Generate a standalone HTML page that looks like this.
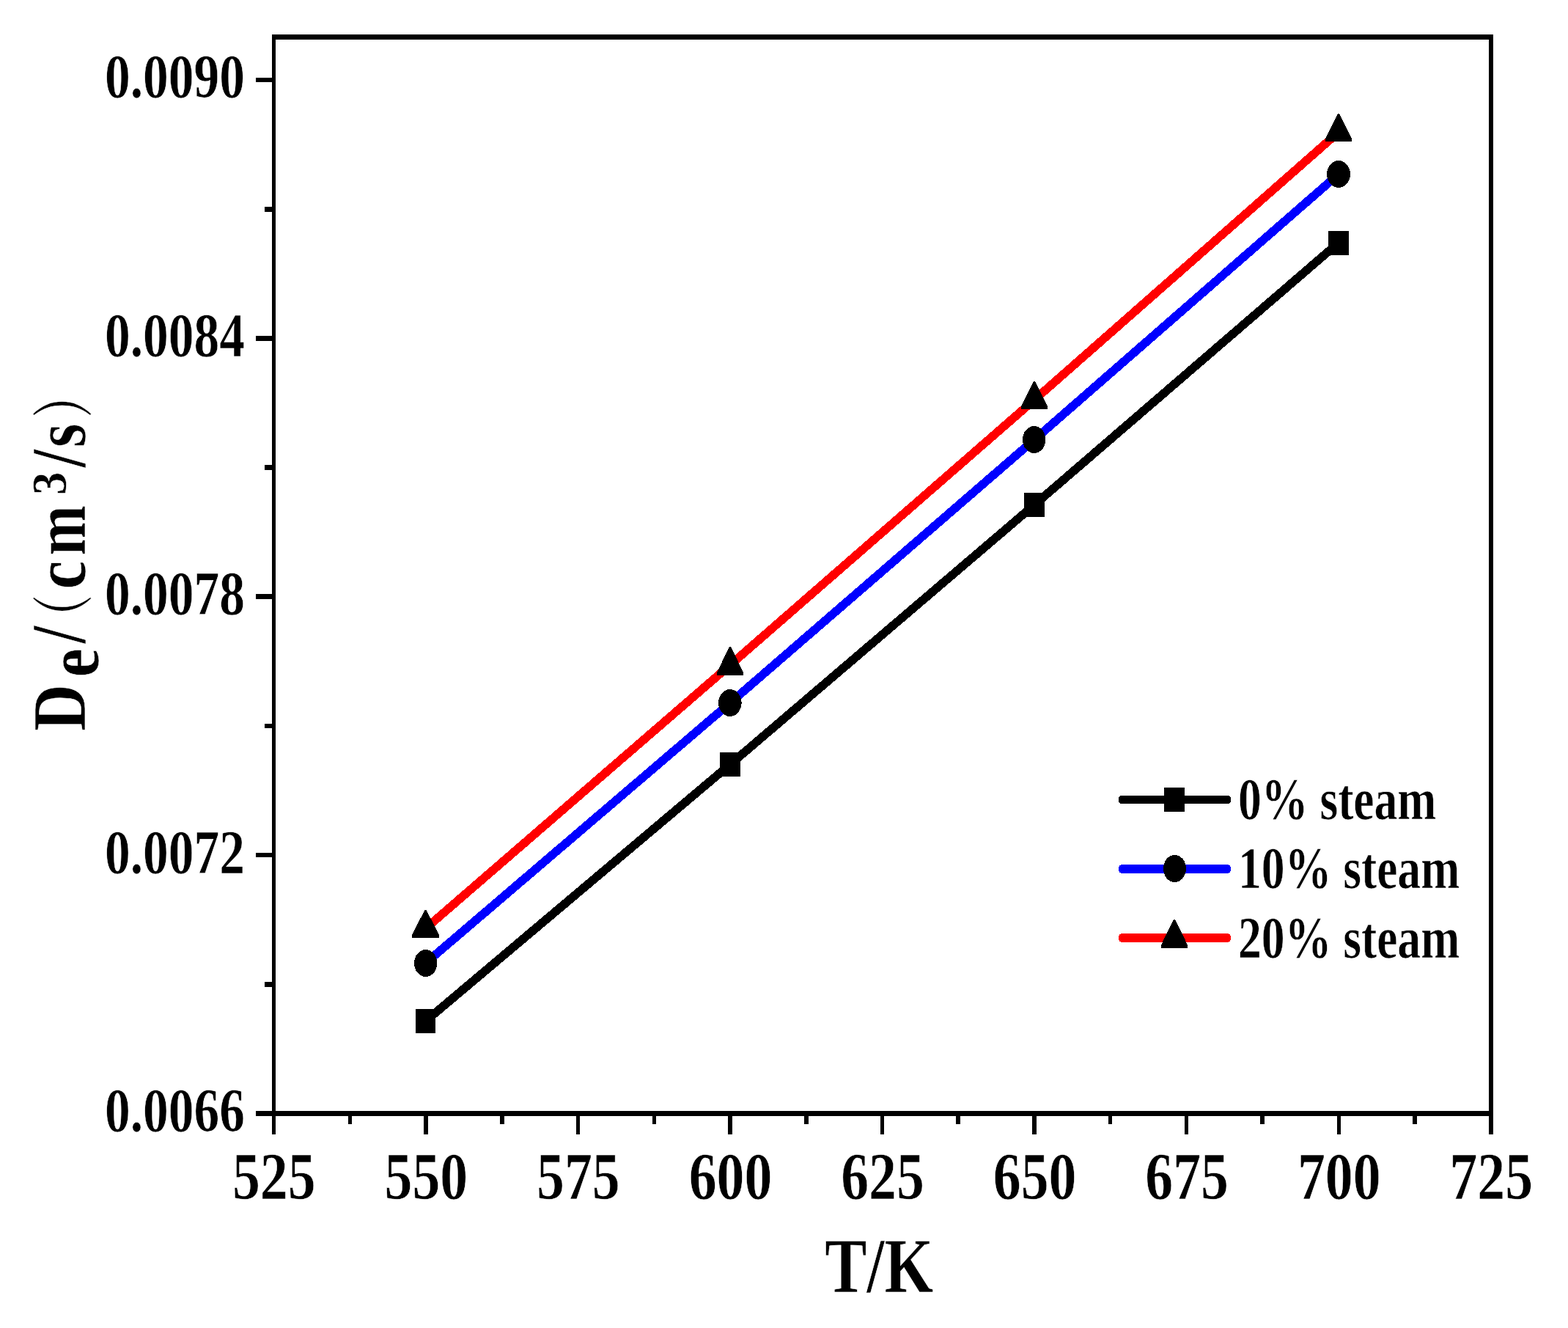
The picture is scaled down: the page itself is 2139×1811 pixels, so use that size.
<!DOCTYPE html>
<html lang="en">
<head>
<meta charset="utf-8">
<title>De/(cm3/s) - T/K</title>
<style>
html,body{margin:0;padding:0;background:#ffffff;}
body{width:2139px;height:1811px;overflow:hidden;}
svg{display:block;}
text{white-space:pre;}
</style>
</head>
<body>
<svg width="2139" height="1811" viewBox="0 0 2139 1811">
<rect x="0" y="0" width="2139" height="1811" fill="#ffffff"/>
<g id="series" shape-rendering="crispEdges" fill="#000">
<polyline points="580.5,1392.5 996,1042.5 1411,688.5 1826,331" fill="none" stroke="#000000" stroke-width="11.6" stroke-linejoin="round" stroke-linecap="round"/>
<polyline points="580.5,1313.5 996,958.5 1411,599.5 1826,237.5" fill="none" stroke="#0000ff" stroke-width="11.6" stroke-linejoin="round" stroke-linecap="round"/>
<polyline points="580.5,1266.2 996,906.87 1411,545.27 1826,180.27" fill="none" stroke="#ff0000" stroke-width="11.6" stroke-linejoin="round" stroke-linecap="round"/>
<rect x="567" y="1376" width="27" height="33"/>
<rect x="982" y="1026" width="28" height="33"/>
<rect x="1397" y="672" width="28" height="33"/>
<rect x="1812" y="315" width="28" height="33"/>
<ellipse cx="580.7" cy="1313.5" rx="15.7" ry="18.5"/>
<ellipse cx="995.8" cy="958.5" rx="15.8" ry="18.5"/>
<ellipse cx="1410.7" cy="599.5" rx="15.7" ry="18.5"/>
<ellipse cx="1826" cy="237.5" rx="16" ry="18.5"/>
<polygon points="579.5,1240.8 581.5,1240.8 599,1275 599,1279 562,1279 562,1275"/>
<polygon points="995,881.8 997,881.8 1014,917 1014,921 978,921 978,917"/>
<polygon points="1410,520 1412,520 1429,554 1429,558 1393,558 1393,554"/>
<polygon points="1825,154.8 1827,154.8 1844,189.1 1844,193.1 1808,193.1 1808,189.1"/>
</g>
<g id="axes" shape-rendering="crispEdges" fill="#000">
<rect x="371" y="47" width="5" height="1500"/>
<rect x="2031" y="47" width="6" height="1500"/>
<rect x="371" y="47" width="1666" height="7"/>
<rect x="349" y="1515" width="1688" height="7"/>
<rect x="349" y="106" width="23" height="6"/>
<rect x="349" y="458" width="23" height="7"/>
<rect x="349" y="810" width="23" height="7"/>
<rect x="349" y="1163" width="23" height="6"/>
<rect x="361" y="282" width="11" height="7"/>
<rect x="361" y="634" width="11" height="7"/>
<rect x="361" y="987" width="11" height="6"/>
<rect x="361" y="1339" width="11" height="7"/>
<rect x="578" y="1520" width="6" height="27"/>
<rect x="786" y="1520" width="5" height="27"/>
<rect x="993" y="1520" width="6" height="27"/>
<rect x="1201" y="1520" width="5" height="27"/>
<rect x="1408" y="1520" width="6" height="27"/>
<rect x="1616" y="1520" width="5" height="27"/>
<rect x="1824" y="1520" width="5" height="27"/>
<rect x="475" y="1520" width="5" height="13"/>
<rect x="682" y="1520" width="6" height="13"/>
<rect x="890" y="1520" width="5" height="13"/>
<rect x="1097" y="1520" width="6" height="13"/>
<rect x="1304" y="1520" width="6" height="13"/>
<rect x="1512" y="1520" width="5" height="13"/>
<rect x="1719" y="1520" width="6" height="13"/>
<rect x="1927" y="1520" width="6" height="13"/>
</g>
<g id="legend" shape-rendering="crispEdges" fill="#000">
<rect x="1526" y="1084.7" width="153" height="11.6" rx="4.5" ry="4.5" fill="#000000"/>
<rect x="1526" y="1179.2" width="153" height="11.6" rx="4.5" ry="4.5" fill="#0000ff"/>
<rect x="1526" y="1273.2" width="153" height="11.6" rx="4.5" ry="4.5" fill="#ff0000"/>
<rect x="1588" y="1074" width="28" height="33"/>
<ellipse cx="1602.5" cy="1184.5" rx="15.5" ry="18.5"/>
<polygon points="1601,1253.8 1603,1253.8 1620,1288.6 1620,1292.6 1584,1292.6 1584,1288.6"/>
</g>
<g id="labels" font-family="'Liberation Serif', serif" font-weight="bold" fill="#000" stroke="#fff" stroke-width="0.6">
<text transform="translate(143.05 133.03) scale(0.8195 1)" font-size="84.71">0.0090</text>
<text transform="translate(143.05 486.03) scale(0.8195 1)" font-size="84.71">0.0084</text>
<text transform="translate(143.05 838.03) scale(0.8195 1)" font-size="84.71">0.0078</text>
<text transform="translate(143.05 1191.03) scale(0.8195 1)" font-size="84.71">0.0072</text>
<text transform="translate(143.05 1543.03) scale(0.8195 1)" font-size="84.71">0.0066</text>
<text transform="translate(316.96 1635.39) scale(0.8290 1)" font-size="91.41">525</text>
<text transform="translate(524.52 1635.39) scale(0.8290 1)" font-size="91.41">550</text>
<text transform="translate(732.09 1635.39) scale(0.8290 1)" font-size="91.41">575</text>
<text transform="translate(939.65 1635.39) scale(0.8290 1)" font-size="91.41">600</text>
<text transform="translate(1147.21 1635.39) scale(0.8290 1)" font-size="91.41">625</text>
<text transform="translate(1354.77 1635.39) scale(0.8290 1)" font-size="91.41">650</text>
<text transform="translate(1562.34 1635.39) scale(0.8290 1)" font-size="91.41">675</text>
<text transform="translate(1769.9 1635.39) scale(0.8290 1)" font-size="91.41">700</text>
<text transform="translate(1977.46 1635.39) scale(0.8290 1)" font-size="91.41">725</text>
<text transform="translate(1125.37 1761.95) scale(0.8114 1)" font-size="105.76">T/K</text>
<text transform="translate(1689.07 1117.16) scale(0.7869 1)" font-size="80.85">0% steam</text>
<text transform="translate(1689.07 1211.16) scale(0.7869 1)" font-size="80.85">10% steam</text>
<text transform="translate(1689.07 1306.16) scale(0.7869 1)" font-size="80.85">20% steam</text>
</g>
<g id="ytitle" transform="translate(116 995) rotate(-90)" font-family="'Liberation Serif', serif" font-weight="bold" fill="#000" stroke="#fff" stroke-width="0.6"><text transform="translate(-1.68 0.04) scale(0.8415 1)" font-size="104.49">D</text><text transform="translate(71.56 18.48) scale(0.8654 1)" font-size="102.08">e</text><text transform="translate(117.61 0.24) scale(0.8097 1)" font-size="105.82">/</text><text transform="translate(154.88 -8.32) scale(0.9842 1)" font-size="76.87" font-family="'Noto Serif CJK SC', 'Liberation Serif', serif" font-weight="normal" stroke-width="0.3">(</text><text transform="translate(191.6 0.38) scale(0.8565 1)" font-size="101.88">c</text><text transform="translate(237.5 0.4) scale(0.8048 1)" font-size="101.91">m</text><text transform="translate(320.1 -26.18) scale(0.9217 1)" font-size="68.25">3</text><text transform="translate(357.43 0.44) scale(0.8245 1)" font-size="105.97">/</text><text transform="translate(385.06 0.48) scale(0.8173 1)" font-size="101.88">s</text><text transform="translate(426.72 -8.34) scale(0.9808 1)" font-size="76.72" font-family="'Noto Serif CJK SC', 'Liberation Serif', serif" font-weight="normal" stroke-width="0.3">)</text></g>
</svg>
</body>
</html>
